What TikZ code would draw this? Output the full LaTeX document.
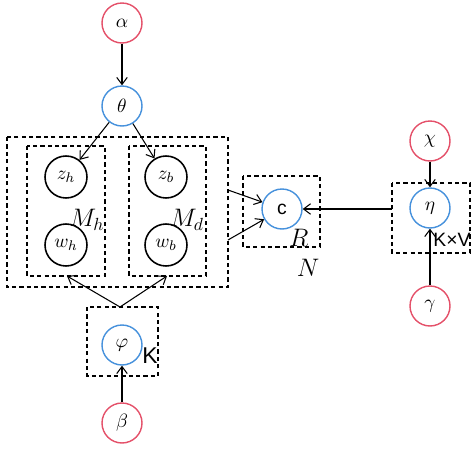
\documentclass[tikz,border=0pt]{standalone}
\usepackage{fontspec}
\newfontfamily\arialf{Liberation Sans}
\usetikzlibrary{arrows.meta}
\definecolor{rednode}{RGB}{228,80,105}
\definecolor{bluenode}{RGB}{70,145,220}
\begin{document}
\begin{tikzpicture}[x=0.02cm,y=-0.02cm,
  var/.style={circle,draw,line width=0.8pt,minimum size=0.8cm,inner sep=0pt,font=\fontsize{11}{13}\selectfont},
  hyper/.style={var,draw=rednode},
  latent/.style={var,draw=bluenode},
  obs/.style={var,draw=black,line width=0.9pt,minimum size=0.84cm},
  plate/.style={draw,line width=0.65pt,dash pattern=on 2.4pt off 1.8pt},
  arr/.style={-{Straight Barb[length=4pt,width=6pt]},line width=0.6pt},
  lbl/.style={font=\fontsize{14}{16}\selectfont}]
\useasboundingbox (0,0) rectangle (474,450);
% nodes
\node[hyper] (alpha) at (122,23) {$\alpha$};
\node[latent] (theta) at (122,106) {$\theta$};
\node[obs] (zh) at (66,177) {$z_h$};
\node[obs] (wh) at (66,245) {$w_h$};
\node[obs] (zb) at (166,177) {$z_b$};
\node[obs] (wb) at (166,245) {$w_b$};
\node[latent] (phi) at (122,345) {$\varphi$};
\node[hyper] (beta) at (122,423) {$\beta$};
\node[latent] (c) at (282,209) {\arialf c};
\node[latent] (eta) at (430,208) {$\eta$};
\node[hyper] (chi) at (430,141) {$\chi$};
\node[hyper] (gamma) at (430,306) {$\gamma$};
% plates
\draw[plate] (7,137) rectangle (228,287);
\draw[plate] (27,146) rectangle (105,276);
\draw[plate] (129,146) rectangle (206,276);
\draw[plate] (87,307) rectangle (158,376);
\draw[plate] (243,176) rectangle (320,247);
\draw[plate] (392,183) rectangle (470,253);
\coordinate (outerR1) at (228,190);
\coordinate (outerR2) at (228,240);
\coordinate (phitop) at (120,307);
\coordinate (lhbot) at (67,276);
\coordinate (rdbot) at (167,276);
\coordinate (etaL) at (392,209);
% labels
\node[lbl] (Mh) at (87,220) {$M_h$};
\node[lbl] (Md) at (187,220) {$M_d$};
\node[lbl] (R) at (299,238) {$R$};
\node[lbl] (N) at (308,268) {$N$};
\node[font=\arialf\fontsize{13}{15}\selectfont] (K) at (150,356) {K};
\node[font=\arialf\fontsize{11}{13}\selectfont,inner sep=0pt] (KV) at (452,240) {K×V};
% connectors
\draw[arr] (alpha) -- (theta);
\draw[arr] (theta) -- (zh);
\draw[arr] (theta) -- (zb);
\draw[arr] (phitop) -- (lhbot);
\draw[arr] (phitop) -- (rdbot);
\draw[arr] (beta) -- (phi);
\draw[arr] (outerR1) -- (c);
\draw[arr] (outerR2) -- (c);
\draw[arr] (etaL) -- (c);
\draw[arr] (chi) -- (eta);
\draw[arr] (gamma) -- (eta);
\end{tikzpicture}
\end{document}
